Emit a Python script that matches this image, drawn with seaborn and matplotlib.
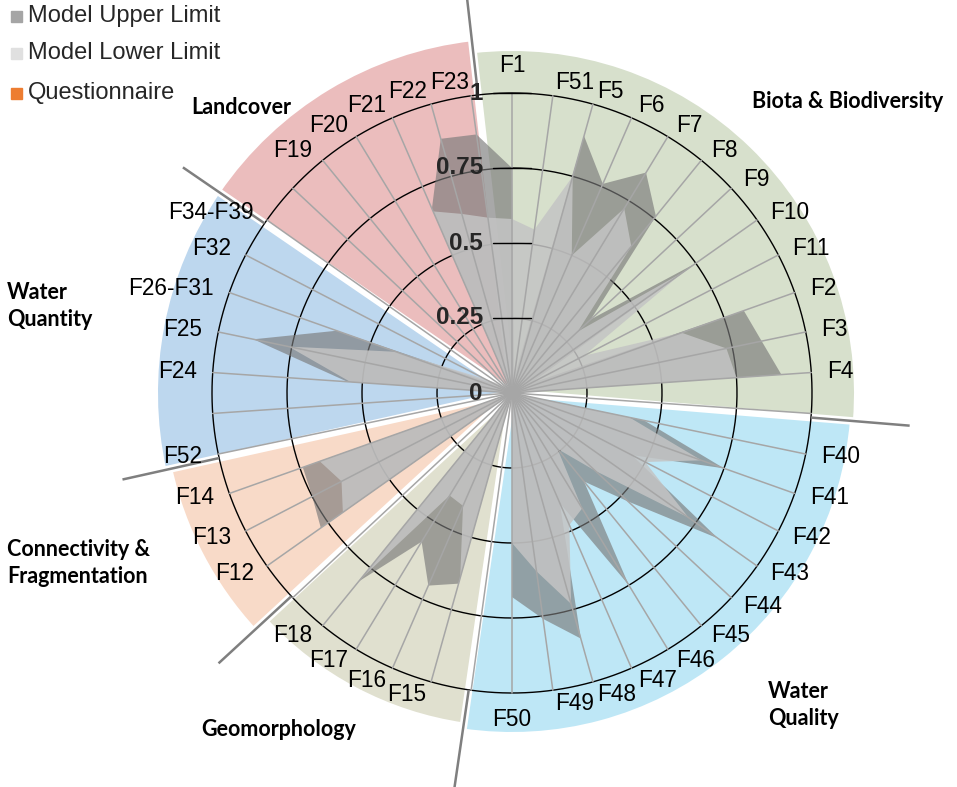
import numpy as np
import pandas as pd
import matplotlib
matplotlib.use("Agg")
import matplotlib.pyplot as plt
import seaborn as sns
from matplotlib.patches import Rectangle

# ---------------- data ----------------
categories = ["F1", "F51", "F5", "F6", "F7", "F8", "F9", "F10", "F11", "F2", "F3", "F4", "",
              "F40", "F41", "F42", "F43", "F44", "F45", "F46", "F47", "F48", "F49", "F50", "",
              "F15", "F16", "F17", "F18", "",
              "F12", "F13", "F14", "F52", "",
              "F24", "F25", "F26-F31", "F32", "F34-F39", "",
              "F19", "F20", "F21", "F22", "F23"]

upper_limit = [0.75, 0.05, 0.89, 0.76, 0.86, 0.76, 0.36, 0.75, 0.07, 0.82, 0.85, 0.90, 0.0,
               0.45, 0.75, 0.45, 0.84, 0.53, 0.38, 0.75, 0.40, 0.85, 0.76, 0.68, 0.0,
               0.66, 0.70, 0.58, 0.81, 0.0,
               0.78, 0.75, 0.74, 0.0, 0.0,
               0.55, 0.88, 0.62, 0.06, 0.05, 0.0,
               0.0, 0.0, 0.67, 0.88, 0.87]

lower_limit = [0.58, 0.55, 0.75, 0.50, 0.72, 0.63, 0.30, 0.70, 0.27, 0.60, 0.73, 0.75, 0.0,
               0.40, 0.67, 0.50, 0.72, 0.38, 0.24, 0.45, 0.48, 0.73, 0.60, 0.50, 0.0,
               0.64, 0.41, 0.40, 0.80, 0.0,
               0.69, 0.64, 0.68, 0.0, 0.0,
               0.54, 0.76, 0.41, 0.10, 0.05, 0.0,
               0.0, 0.0, 0.66, 0.62, 0.59]

grid_levels = [0.25, 0.5, 0.75, 1.0]
tick_labels = ["0", "0.25", "0.5", "0.75", "1"]
tick_values = [0, 0.25, 0.5, 0.75, 1.0]

group_names = ["Biota & Biodiversity", "Water Quality", "Geomorphology",
               "Connectivity & Fragmentation", "Water Quantity", "Landcover"]

series_names = ["Model Upper Limit", "Model Lower Limit", "Questionnaire"]

# ---------------- style / layout ----------------
group_bounds = [-0.83, 12.1, 24.06, 29.05, 32.9, 38.9, 45.17]   # in category-index units
group_colors = ["#d7e0cc", "#bee7f6", "#e0e0cf", "#f8dac8", "#bdd7ee", "#ebbdbd"]
group_radius = [1.14, 1.13, 1.11, 1.16, 1.18, 1.18]
series_colors = ["#a5a5a5", "#e0e0e0", "#ed7d31"]

sns.set_theme(style="white")
plt.rcParams["font.family"] = ["Liberation Sans", "DejaVu Sans"]

W, H = 957, 787
fig = plt.figure(figsize=(W / 100, H / 100), dpi=100)
cx, cy, R = 512, 393, 300
RMAX = 1.2
rp = R * RMAX
ax = fig.add_axes([(cx - rp) / W, 1 - (cy + rp) / H, 2 * rp / W, 2 * rp / H], projection="polar")
ax.set_theta_zero_location("N")
ax.set_theta_direction(-1)
ax.set_ylim(0, RMAX)
ax.set_xticks([])
ax.set_yticks([])
ax.grid(False)
ax.spines["polar"].set_visible(False)
ax.patch.set_alpha(0)

n = len(categories)
step = 2 * np.pi / n
theta = np.arange(n) * step

# coloured group sectors
for k in range(len(group_names)):
    a0, a1 = group_bounds[k], group_bounds[k + 1]
    ax.bar((a0 + a1) / 2 * step, group_radius[k], width=(a1 - a0) * step, bottom=0,
           color=group_colors[k], edgecolor="none", zorder=0)

# white gaps between sectors
for b in group_bounds[:-1]:
    ax.plot([b * step, b * step], [0, 1.22], color="white", lw=5.5,
            solid_capstyle="butt", zorder=0.5)

# circular gridlines (seaborn)
tt = np.linspace(0, 2 * np.pi, 500)
grid_df = pd.DataFrame({"theta": np.tile(tt, len(grid_levels)),
                        "r": np.repeat(grid_levels, len(tt)),
                        "level": np.repeat(grid_levels, len(tt))})
sns.lineplot(data=grid_df, x="theta", y="r", units="level", estimator=None, sort=False,
             color="black", lw=1.0, ax=ax, legend=False, zorder=1)
ax.set_xlabel("")
ax.set_ylabel("")
ax.set_ylim(0, RMAX)

# radar polygons
tc = np.append(theta, theta[0])
ax.fill(tc, np.append(upper_limit, upper_limit[0]), color="#7a7a7a", alpha=0.65, lw=0, zorder=2)
ax.fill(tc, np.append(lower_limit, lower_limit[0]), color="#c4c4c4", alpha=0.85, lw=0, zorder=3)

# spokes
for t in theta:
    ax.plot([t, t], [0, 1.0], color="#a6a6a6", lw=1.1, zorder=4)

# value-axis tick marks (short horizontal strokes across the F1 spoke)
half = 19 / R
for v in grid_levels:
    xs = np.linspace(-half, half, 41)
    ax.plot(np.arctan2(xs, v), np.hypot(xs, v), color="black", lw=1.0, zorder=4.5)

# separators
for b in group_bounds[:-1]:
    ax.plot([b * step, b * step], [1.0, 1.33], color="#7f7f7f", lw=1.8,
            clip_on=False, zorder=6, solid_capstyle="butt")

# category labels
px = 0.72
for i, lab in enumerate(categories):
    if not lab:
        continue
    t = theta[i]
    ang = np.pi / 2 - t
    c, s = np.cos(ang), np.sin(ang)
    if abs(c) < 0.02:
        ha = "center"
        off = (0, 27 * np.sign(s))
    else:
        ha = "left" if c > 0 else "right"
        off = (16 * c, 13 * s)
    ax.annotate(lab, xy=(t, 1.0), xytext=(off[0] * px, off[1] * px), textcoords="offset points",
                ha=ha, va="center", fontsize=16.3, color="black", zorder=7, annotation_clip=False)

# radial tick labels
for v, lab in zip(tick_values, tick_labels):
    ax.annotate(lab, xy=(0, v), xytext=(-29 * px, 0), textcoords="offset points",
                ha="right", va="center", fontsize=17.5, fontweight="bold", zorder=8)

# legend
leg_y = [16, 53, 93]
for name, col, y in zip(series_names, series_colors, leg_y):
    fig.patches.append(Rectangle((11 / W, 1 - (y + 5.5) / H), 11 / W, 11 / H,
                                 transform=fig.transFigure, color=col, figure=fig))
    fig.text(28 / W, 1 - y / H, name, fontsize=17, ha="left", va="center")

# group titles
tf = dict(fontsize=15.5, fontweight="bold", family=["Lato", "DejaVu Sans"], color="black")
fig.text(241 / W, 1 - 107 / H, group_names[5], ha="center", va="center", **tf)
fig.text(848 / W, 1 - 101 / H, group_names[0], ha="center", va="center", **tf)
fig.text(7 / W, 1 - 306 / H, "Water\nQuantity", ha="left", va="center", linespacing=1.4, **tf)
fig.text(7 / W, 1 - 563 / H, "Connectivity &\nFragmentation", ha="left", va="center", linespacing=1.4, **tf)
fig.text(279 / W, 1 - 729 / H, group_names[2], ha="center", va="center", **tf)
fig.text(768 / W, 1 - 705 / H, "Water\nQuality", ha="left", va="center", linespacing=1.4, **tf)

fig.savefig("out.png", dpi=100)
